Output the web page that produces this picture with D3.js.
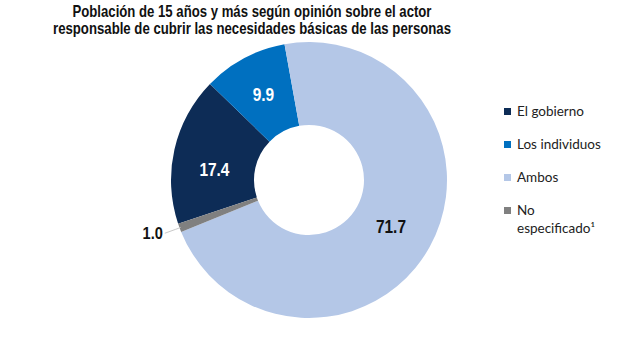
<!DOCTYPE html>
<html><head><meta charset="utf-8">
<script src="https://cdn.jsdelivr.net/npm/d3@7"></script>
<style>body{margin:0;background:#fff}svg{display:block}</style>
</head><body>
<svg id="c" width="626" height="342"></svg>
<script>
const categories = ["El gobierno", "Los individuos", "Ambos", "No especificado¹"];
const values = [17.4, 9.9, 71.7, 1.0];
const colors = ["#0d2c56", "#0070c0", "#b4c7e7", "#808080"];
const titleLines = ["Población de 15 años y más según opinión sobre el actor",
  "responsable de cubrir las necesidades básicas de las personas"];

const svg = d3.select("#c");
const cx = 309, cy = 180, R = 138, r = 55;
const start = 251.5 * Math.PI / 180;
const FONT = "Liberation Sans, Arial, sans-serif";

svg.append("g").selectAll("text").data(titleLines).join("text")
  .attr("x", 252).attr("y", (d, i) => 16.5 + i * 17.5)
  .attr("text-anchor", "middle")
  .attr("font-family", FONT)
  .attr("font-weight", "bold").attr("font-size", 16.5).attr("fill", "#111")
  .attr("textLength", (d, i) => i === 0 ? 359 : 398).attr("lengthAdjust", "spacingAndGlyphs")
  .text(d => d);

const data = categories.map((c, i) => ({ c, v: values[i], col: colors[i] }));
const pie = d3.pie().value(d => d.v).sort(null).startAngle(start).endAngle(start + 2 * Math.PI);
const arcs = pie(data);
const arc = d3.arc().innerRadius(r).outerRadius(R);
const g = svg.append("g").attr("transform", `translate(${cx},${cy})`);
g.selectAll("path").data(arcs).join("path").attr("d", arc).attr("fill", d => d.data.col);

// labels
const labelArc = d3.arc().innerRadius(97).outerRadius(97);
const nudge = { "El gobierno": [0, 11], "Los individuos": [0, 0], "Ambos": [-3, 0] };
g.selectAll("text.v").data(arcs.filter(d => d.data.v > 5)).join("text")
  .attr("class", "v")
  .attr("transform", d => {
    const [x, y] = labelArc.centroid(d);
    const n = nudge[d.data.c];
    return `translate(${x + n[0]},${y + n[1]}) scale(0.86,1)`;
  })
  .attr("text-anchor", "middle").attr("dy", "0.36em")
  .attr("font-family", FONT).attr("font-weight", "bold")
  .attr("font-size", 18)
  .attr("fill", d => d.data.c === "Ambos" ? "#111" : "#fff")
  .text(d => d.data.v.toFixed(1));

// small slice label with leader
const small = arcs[3];
const mid = (small.startAngle + small.endAngle) / 2;
const p1 = [Math.sin(mid) * (R - 1), -Math.cos(mid) * (R - 1)];
const p2 = [Math.sin(mid) * (R + 4), -Math.cos(mid) * (R + 4)];
const p3 = [p2[0] - 11, p2[1] + 4];
g.append("polyline").attr("points", [p1, p2, p3].map(p => p.join(",")).join(" "))
  .attr("fill", "none").attr("stroke", "#c8c8c8").attr("stroke-width", 1);
g.append("text").attr("transform", `translate(${p3[0] - 2},${p3[1]}) scale(0.86,1)`).attr("dy", "0.36em")
  .attr("text-anchor", "end")
  .attr("font-family", FONT).attr("font-weight", "bold")
  .attr("font-size", 17).attr("fill", "#111").text(small.data.v.toFixed(1));

// legend
const leg = svg.append("g").attr("transform", "translate(504,0)");
const legY = [108, 141, 174, 207];
data.forEach((d, i) => {
  leg.append("rect").attr("x", 0).attr("y", legY[i]).attr("width", 7).attr("height", 7).attr("fill", d.col);
  const words = i === 3 ? ["No", "especificado¹"] : [d.c];
  const t = leg.append("text").attr("x", 13).attr("y", legY[i] + 7.8)
    .attr("font-family", "Lato, 'Open Sans', sans-serif").attr("font-size", 13.5).attr("fill", "#222");
  words.forEach((w, j) => t.append("tspan").attr("x", 13).attr("dy", j ? 18 : 0).text(w));
});
</script>
</body></html>
